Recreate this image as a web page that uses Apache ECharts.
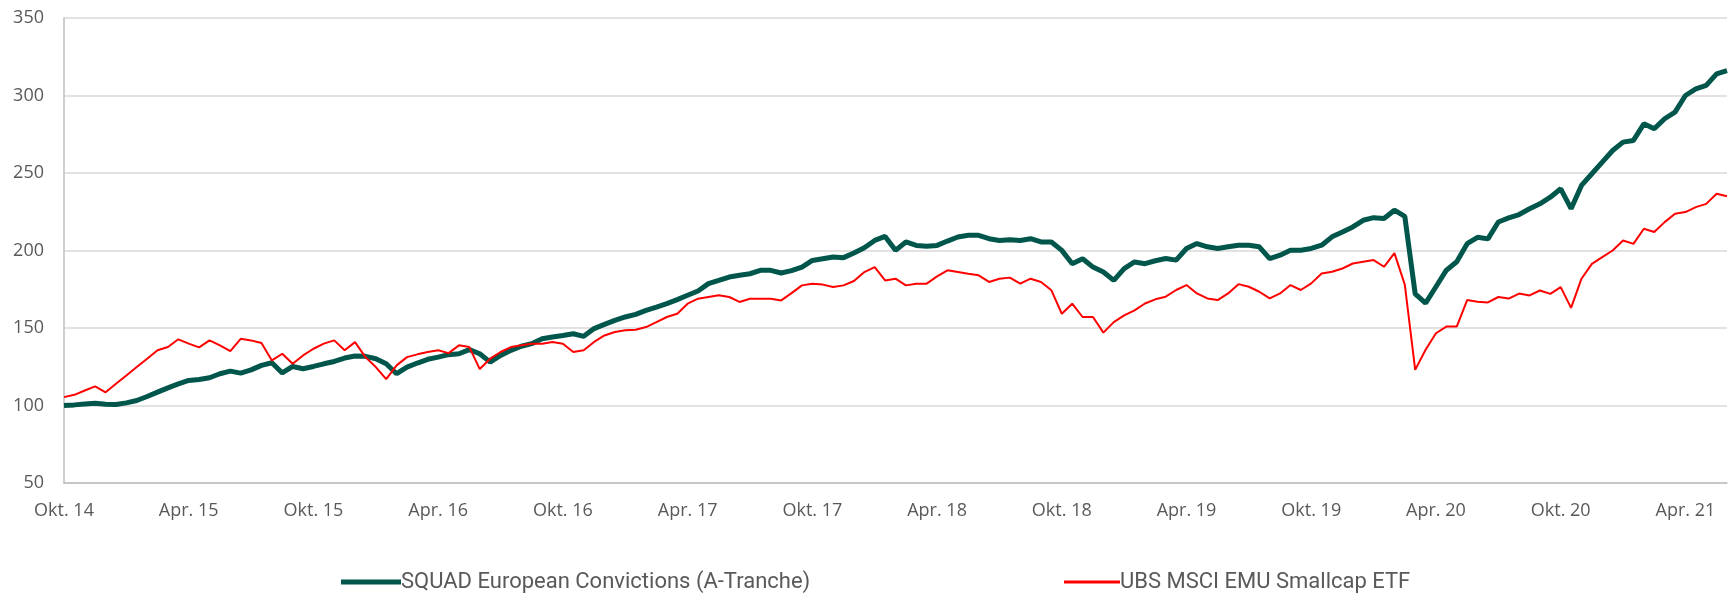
<!DOCTYPE html>
<html>
<head>
<meta charset="utf-8">
<script src="https://cdn.jsdelivr.net/npm/echarts@6/dist/echarts.min.js"></script>
<style>
  html, body { margin: 0; padding: 0; background: #fff; }
  #chart { width: 1729px; height: 593px; }
</style>
</head>
<body>
<div id="chart"></div>
<script>
// half-monthly readings, Oct 2014 .. Jun 2021
const squadValues = [
  100, 100.4, 101, 101.5, 100.8, 100.6, 101.7, 103.2, 105.8, 108.6,
  111.4, 114, 116.2, 116.8, 117.9, 120.5, 122.2, 120.9, 123, 125.9,
  127.6, 121, 125.2, 123.7, 125.2, 126.9, 128.4, 130.6, 131.9, 131.7,
  130.2, 126.9, 120.5, 124.8, 127.4, 129.8, 131.2, 132.8, 133.4, 136,
  133.4, 128, 132.3, 135.6, 138.2, 139.9, 143.1, 144.2, 145.2, 146.3,
  144.6, 149.6, 152.3, 154.9, 157.1, 158.8, 161.4, 163.5, 165.7, 168.3,
  171.1, 173.9, 178.6, 180.7, 182.9, 184, 185, 187.2, 187.2, 185.5,
  187, 189.3, 193.6, 194.7, 195.8, 195.4, 198.4, 201.8, 206.5, 209.1,
  200.1, 205.5, 203.3, 202.7, 203.3, 206.1, 208.7, 209.8, 209.8, 207.6,
  206.5, 207, 206.5, 207.6, 205.5, 205.5, 200.1, 191.5, 194.7, 189.3,
  186.1, 180.7, 188.3, 192.6, 191.5, 193.4, 194.8, 193.8, 201.3, 204.5,
  202.4, 201.3, 202.4, 203.4, 203.4, 202.4, 194.8, 197, 200.2, 200.2,
  201.3, 203.4, 208.8, 212, 215.2, 219.5, 221.2, 220.6, 226, 222,
  172, 166, 176.6, 187.3, 192.7, 204.4, 208.5, 207.5, 218.4, 221,
  223.2, 226.9, 230.1, 234.4, 239.8, 227, 242, 249.5, 257, 264.5,
  269.9, 271, 281.7, 278.5, 285, 289.3, 300, 304.3, 306.5, 314,
  316.1
];

const ubsValues = [
  105.4, 106.9, 109.7, 112.3, 108.5, 114, 119.4, 124.8, 130.2, 135.6,
  137.7, 142.7, 139.9, 137.5, 142, 138.8, 135.1, 143, 142, 140.3,
  129.1, 133.4, 126.9, 132.3, 136.6, 139.9, 142, 135.6, 140.9, 131.2,
  124.8, 117, 125.9, 131.2, 133, 134.5, 135.6, 133.8, 138.8, 137.7,
  123.5, 130.2, 134.5, 137.7, 138.8, 139.9, 139.9, 141, 139.9, 134.5,
  135.6, 141, 145.2, 147.4, 148.5, 148.9, 150.6, 153.8, 157.1, 159.2,
  165.7, 168.9, 170, 171.1, 170, 166.8, 168.9, 168.9, 168.9, 167.8,
  172.5, 177.5, 178.6, 178, 176.4, 177.5, 180.3, 186.1, 189.3, 180.7,
  181.8, 177.5, 178.6, 178.6, 183.3, 187.2, 186.1, 185, 184, 179.7,
  181.8, 182.5, 178.6, 181.8, 179.7, 174.3, 159.2, 165.7, 157.1, 157.1,
  147, 153.8, 158.2, 161.4, 165.8, 168.5, 170.2, 174.5, 177.7, 172.3,
  169.1, 168, 172.3, 178.3, 176.6, 173.4, 169.1, 172.3, 177.7, 174.5,
  178.8, 185.2, 186.3, 188.4, 191.6, 192.7, 193.8, 189.5, 198.3, 178,
  123, 136, 146.6, 150.9, 150.9, 168, 167, 166.5, 170, 169,
  172.2, 171, 174.2, 172, 176.4, 163, 181.8, 191.4, 195.7, 200,
  206.5, 204.3, 214, 211.9, 218.3, 223.7, 224.8, 228, 230.1, 236.6,
  235
];

const tickLabels = [
  "Okt. 14", "Apr. 15", "Okt. 15", "Apr. 16", "Okt. 16", "Apr. 17", "Okt. 17",
  "Apr. 18", "Okt. 18", "Apr. 19", "Okt. 19", "Apr. 20", "Okt. 20", "Apr. 21"
];

const seriesNames = ["SQUAD European Convictions (A-Tranche)", "UBS MSCI EMU Smallcap ETF"];

// category dates: 1st and 15th of each month from Oct 2014
const dates = [];
for (let i = 0; i < squadValues.length; i++) {
  const m = 9 + Math.floor(i / 2);
  const y = 2014 + Math.floor(m / 12);
  const mm = String((m % 12) + 1).padStart(2, "0");
  dates.push(y + "-" + mm + (i % 2 ? "-15" : "-01"));
}

const chart = echarts.init(document.getElementById("chart"));
const labelFont = { color: "#595959", fontSize: 18, fontFamily: "Open Sans, sans-serif" };
const legendFont = { color: "#595959", fontSize: 22, fontFamily: "Roboto, sans-serif", padding: [0, 0, 0, -5] };

chart.setOption({
  animation: false,
  grid: { left: 64, right: 2, top: 18, bottom: 110, containLabel: false },
  legend: [
    {
      data: [seriesNames[0]],
      left: 336, top: 566,
      icon: "rect", itemWidth: 60, itemHeight: 5, itemGap: 0,
      textStyle: legendFont
    },
    {
      data: [seriesNames[1]],
      left: 1059, top: 566,
      icon: "rect", itemWidth: 56, itemHeight: 3, itemGap: 0,
      textStyle: legendFont
    }
  ],
  xAxis: {
    type: "category",
    data: dates,
    boundaryGap: false,
    axisLine: { lineStyle: { color: "#bfbfbf", width: 1.5 } },
    axisTick: { show: false },
    splitLine: { show: false },
    axisLabel: Object.assign({
      interval: function (index) { return index % 12 === 0; },
      formatter: function (value, index) { return tickLabels[index / 12] || ""; },
      margin: 19
    }, labelFont)
  },
  yAxis: {
    type: "value",
    min: 50,
    max: 350,
    interval: 50,
    axisLine: { show: true, lineStyle: { color: "#bfbfbf", width: 1.5 } },
    axisTick: { show: false },
    splitLine: { lineStyle: { color: "#d9d9d9", width: 1.5 } },
    axisLabel: Object.assign({ margin: 20 }, labelFont)
  },
  series: [
    {
      name: seriesNames[0],
      type: "line",
      data: squadValues,
      showSymbol: false,
      symbol: "none",
      itemStyle: { color: "#00564b" },
      lineStyle: { color: "#00564b", width: 5 }
    },
    {
      name: seriesNames[1],
      type: "line",
      data: ubsValues,
      showSymbol: false,
      symbol: "none",
      itemStyle: { color: "#ff0000" },
      lineStyle: { color: "#ff0000", width: 2 }
    }
  ]
});
</script>
</body>
</html>
